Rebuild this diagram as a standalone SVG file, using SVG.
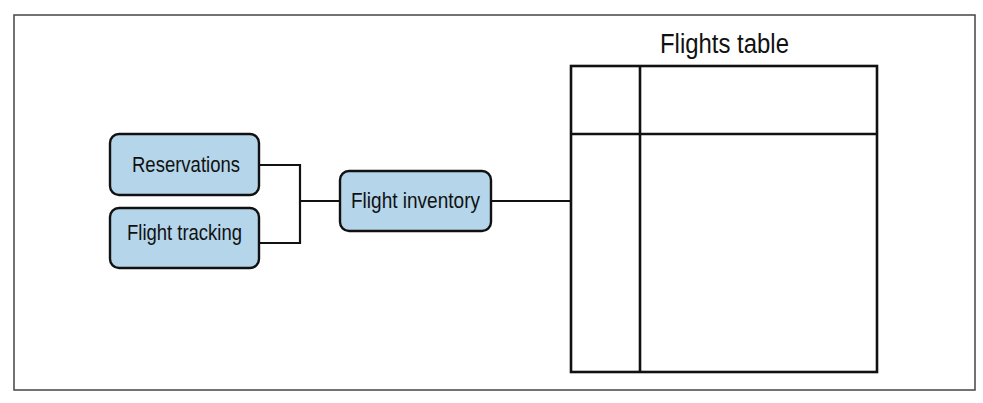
<svg xmlns="http://www.w3.org/2000/svg" width="983" height="403" viewBox="0 0 983 403">
<style>
.node rect{fill:#b4d5ea;stroke:#111;stroke-width:2.4}
.lbl{font-family:"Liberation Sans",Arial,sans-serif;font-size:22px;fill:#111}
.conn{fill:none;stroke:#111;stroke-width:2.2}
.tbl{fill:none;stroke:#111;stroke-width:2.6}
</style>
<rect x="14" y="15" width="961" height="375" fill="#fff" stroke="#444" stroke-width="1.5"/>
<g id="connectors">
<polyline class="conn" points="259,165 300,165 300,243 259,243"/>
<line class="conn" x1="300" y1="201" x2="340" y2="201"/>
<line class="conn" x1="491" y1="201" x2="571" y2="201"/>
</g>
<g id="reservations" class="node">
<rect x="110" y="134" width="149" height="61" rx="9"/>
<text class="lbl" x="132" y="172" textLength="108" lengthAdjust="spacingAndGlyphs">Reservations</text>
</g>
<g id="flight-tracking" class="node">
<rect x="110" y="208" width="149" height="60" rx="9"/>
<text class="lbl" x="127" y="240" textLength="115" lengthAdjust="spacingAndGlyphs">Flight tracking</text>
</g>
<g id="flight-inventory" class="node">
<rect x="340" y="171" width="151" height="60" rx="9"/>
<text class="lbl" x="351" y="208" textLength="129" lengthAdjust="spacingAndGlyphs">Flight inventory</text>
</g>
<g id="flights-table">
<text x="660" y="53" font-family="Liberation Sans,Arial,sans-serif" font-size="27" fill="#111" textLength="129" lengthAdjust="spacingAndGlyphs">Flights table</text>
<rect class="tbl" x="571" y="66" width="306" height="306"/>
<line class="tbl" x1="571" y1="134" x2="877" y2="134"/>
<line class="tbl" x1="640" y1="66" x2="640" y2="372"/>
</g>
</svg>
